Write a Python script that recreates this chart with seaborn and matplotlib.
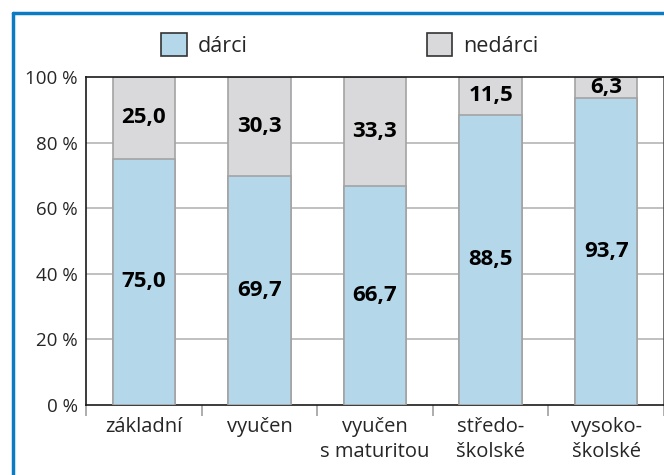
import numpy as np
import pandas as pd
import seaborn as sns
import matplotlib.pyplot as plt
from matplotlib.patches import Patch
from matplotlib.lines import Line2D

# Data
categories = ['základní', 'vyučen', 'vyučen\ns maturitou', 'středo-\nškolské', 'vysoko-\nškolské']
darci = [75.0, 69.7, 66.7, 88.5, 93.7]
nedarci = [25.0, 30.3, 33.3, 11.5, 6.3]
y_ticks = [0, 20, 40, 60, 80, 100]

blue = '#b4d8e9'
grey = '#d9d9db'
edge = '#a3a3a3'

sns.set_style('white')
plt.rcParams['font.family'] = ['Open Sans', 'DejaVu Sans']

df = pd.DataFrame({'kat': categories, 'darci': darci, 'nedarci': nedarci})
df['celkem'] = df['darci'] + df['nedarci']

fig = plt.figure(figsize=(6.64, 4.75), dpi=100)
ax = fig.add_axes([0.1295, 0.1474, 0.8705, 0.6906])

# stacked: total in grey, then darci in blue on top of it
sns.barplot(x='kat', y='celkem', data=df, color=grey, width=0.54,
            edgecolor=edge, linewidth=1.2, saturation=1, ax=ax, zorder=2)
sns.barplot(x='kat', y='darci', data=df, color=blue, width=0.54,
            edgecolor=edge, linewidth=1.2, saturation=1, ax=ax, zorder=3)

ax.set_xlim(-0.5, 4.5)
ax.set_ylim(0, 100)
ax.set_xlabel('')
ax.set_ylabel('')

# y axis
ax.set_yticks(y_ticks)
ax.set_yticklabels([f'{v} %' for v in y_ticks], fontsize=13.5)
ax.tick_params(axis='y', length=7, color='#a0a0a0', width=1.2, pad=-1)
for v in y_ticks[1:-1]:
    ax.axhline(v, color='#b5b5b5', lw=1.2, zorder=1)

# x axis: ticks at category boundaries, labels in centres
ax.set_xticks(np.arange(-0.5, 5, 1))
ax.set_xticklabels([])
ax.set_xticks(np.arange(5), minor=True)
ax.set_xticklabels(categories, minor=True, fontsize=14.5, linespacing=1.3)
ax.tick_params(axis='x', which='major', length=8, color='#a0a0a0', width=1.2, direction='out')
ax.tick_params(axis='x', which='minor', length=0, pad=9)
ax.xaxis.set_ticks_position('bottom')

for s in ax.spines.values():
    s.set_color('#1a1a1a')
    s.set_linewidth(1.2)
ax.spines['right'].set_color('#555555')

# value labels
for i in range(len(categories)):
    ax.text(i, darci[i] / 2, f'{darci[i]:.1f}'.replace('.', ','), ha='center', va='center',
            fontsize=16, fontweight='bold', color='black', zorder=5)
    ax.text(i, darci[i] + nedarci[i] / 2, f'{nedarci[i]:.1f}'.replace('.', ','),
            ha='center', va='center', fontsize=16, fontweight='bold', color='black', zorder=5)

# legend
handles = [Patch(facecolor=blue, edgecolor='#333333', linewidth=1.2, label='dárci'),
           Patch(facecolor=grey, edgecolor='#333333', linewidth=1.2, label='nedárci')]
fig.legend(handles=handles, loc='center', bbox_to_anchor=(0.527, 0.905), ncol=2,
           frameon=False, fontsize=15.5, handlelength=1.2, handleheight=1.2,
           handletextpad=0.5, columnspacing=8.3)

# blue frame (top and left edge)
fig.add_artist(Line2D([13 / 664, 1.0], [1 - 12.5 / 475] * 2, color='#0b7cc2', lw=2.5))
fig.add_artist(Line2D([13 / 664] * 2, [0, 1 - 12.5 / 475], color='#0b7cc2', lw=2.5))

fig.savefig('out.png', dpi=100)
